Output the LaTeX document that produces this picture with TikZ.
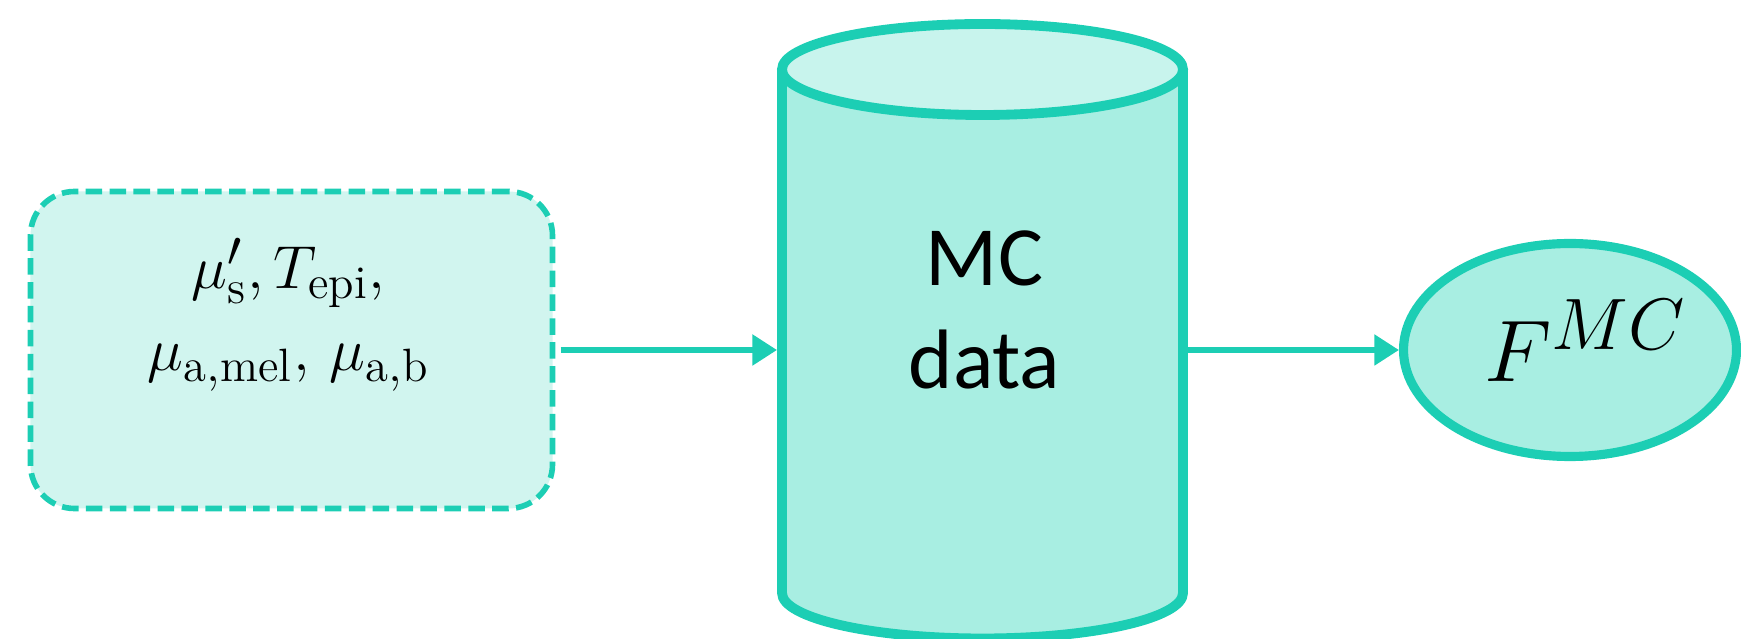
\documentclass[tikz,border=0pt]{standalone}
\usepackage{xcolor}
\usepackage{amsmath}
\usepackage{fontspec}
\setsansfont{Carlito}
\usepackage{tikz}
\usetikzlibrary{positioning, arrows.meta, shapes.geometric}
\definecolor{mcline}{RGB}{28,206,180}
\definecolor{mcpale}{RGB}{209,245,239}
\definecolor{mcfill}{RGB}{168,238,226}
\definecolor{mctop}{RGB}{200,244,237}
\tikzset{
  inbox/.style = {rectangle, draw=mcline, fill=mcpale,
                  dash pattern=on 4.7pt off 2.1pt, line width=1.6pt,
                  rounded corners=0.44cm, minimum width=5.22cm,
                  minimum height=3.17cm},
  intext/.style = {align=center, inner sep=0pt,
                   font=\fontsize{19}{23.3}\selectfont},
  dbslot/.style = {rectangle, inner sep=0pt, outer sep=0pt,
                   minimum width=4.11cm, minimum height=5.15cm},
  dbline/.style = {draw=mcline, line width=2.8pt},
  dbtext/.style = {align=center, inner sep=0pt,
                   font=\sffamily\fontsize{24}{29.3}\selectfont},
  outnode/.style = {ellipse, draw=mcline, fill=mcfill, line width=2.6pt,
                    inner sep=0pt, minimum width=3.33cm, minimum height=2.13cm},
  outtext/.style = {inner sep=0pt, font=\fontsize{32}{38}\selectfont},
  flow/.style = {-{Triangle[length=7pt, width=8.5pt]}, line width=1.6pt,
                 draw=mcline}
}

\begin{document}
\begin{tikzpicture}
\useasboundingbox (0,0) rectangle (17.41,6.38);

% input parameters
\node[inbox] (params) at (2.915,2.88) {};
\node[intext] (paramtext) at ([xshift=-0.03cm, yshift=0.35cm]params.center)
  {$\mu'_{\mathrm{s}}, T_{\mathrm{epi}},$\\ $\mu_{\mathrm{a,mel}},\, \mu_{\mathrm{a,b}}$};

% database cylinder
\draw[dbline, fill=mcfill] (7.82,5.685) -- (7.82,0.45)
  arc[start angle=180, end angle=360, x radius=2.005, y radius=0.455]
  -- (11.83,5.685);
\draw[dbline, fill=mctop] (9.825,5.685) ellipse[x radius=2.005, y radius=0.455];
\node[dbslot] (mcdb) at (9.825,2.88) {};
\node[dbtext] (mctext) at ([xshift=0.02cm, yshift=0.40cm]mcdb.center) {MC\\data};

% output
\node[outnode] (fmc) at (15.70,2.88) {};
\node[outtext] (fmctext) at ([xshift=0.155cm, yshift=0.095cm]fmc.center) {$F^{MC}$};

\draw[flow, shorten <=1.5pt] (params.east) -- (params.east -| mcdb.west);
\draw[flow] (fmc.west -| mcdb.east) -- (fmc.west);
\end{tikzpicture}
\end{document}
